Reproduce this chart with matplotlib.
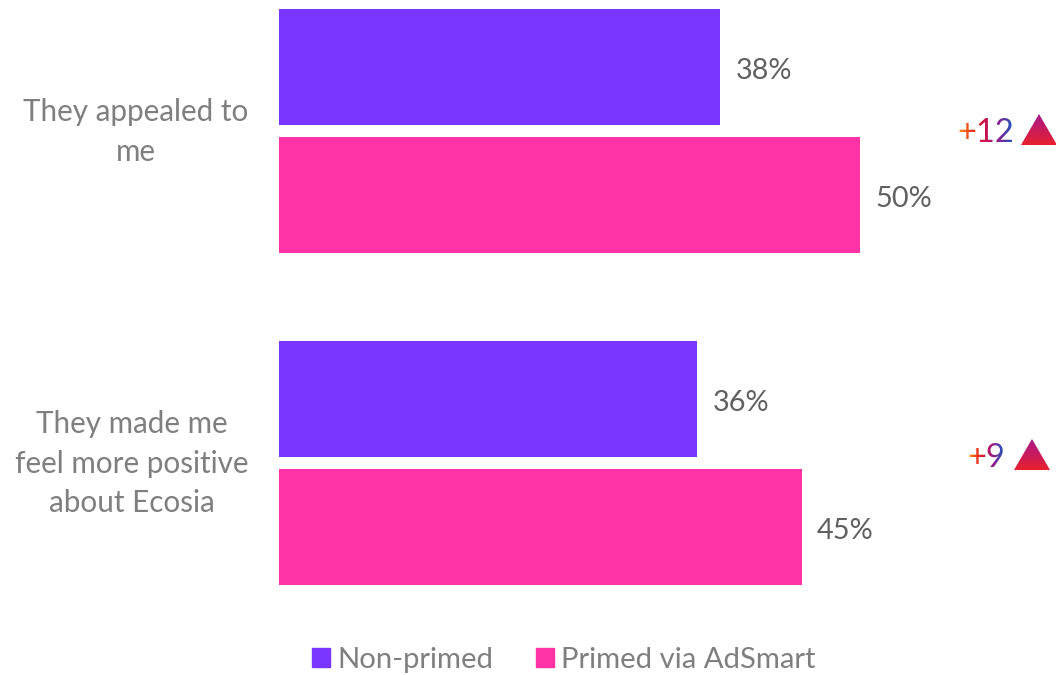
import matplotlib
matplotlib.use('Agg')
import matplotlib.pyplot as plt
import numpy as np
from matplotlib.colors import LinearSegmentedColormap
from matplotlib.patches import Patch, Polygon

plt.rcParams['font.family'] = ['Lato', 'DejaVu Sans']

#%% Data
categories = ['They appealed to\nme', 'They made me\nfeel more positive\nabout Ecosia']
non_primed = [38, 36]
primed = [50, 45]
uplift = ['+12', '+9']
series_names = ['Non-primed', 'Primed via AdSmart']

PURPLE = '#7a35ff'
PINK = '#ff33a5'
GREY = '#7f7f7f'
DARK_GREY = '#606060'

# horizontal gradients used on the uplift numbers and triangles
text_cmap = LinearSegmentedColormap.from_list(
    'uplift_text', ['#ff8a10', '#e8301f', '#c8104f', '#8a2090', '#2a50b8'])
tri_cmap = LinearSegmentedColormap.from_list('uplift_tri', ['#a8188c', '#e8202c'])


def gradient_filter(image, dpi):
    # recolour the rendered text from left to right, keeping its alpha
    out = image.copy()
    grad = text_cmap(np.linspace(0, 1, image.shape[1]))[:, :3]
    out[:, :, :3] = grad[np.newaxis, :, :]
    return out, 0, 0


#%% Figure, axes fill the canvas so the scales below are in canvas pixels
W, H = 1056, 675
PX_PER_PCT = 11.615
PX_PER_CAT = 332
X0, Y0 = 279, 131

fig = plt.figure(figsize=(W / 100, H / 100), dpi=100)
ax = fig.add_axes([0, 0, 1, 1])
ax.set_xlim(-X0 / PX_PER_PCT, (W - X0) / PX_PER_PCT)
ax.set_ylim((H - Y0) / PX_PER_CAT, -Y0 / PX_PER_CAT)
ax.axis('off')

dx = 1 / PX_PER_PCT
dy = 1 / PX_PER_CAT

y = np.arange(len(categories))
offset = 64 * dy
height = 116 * dy
ax.barh(y - offset, non_primed, height=height, color=PURPLE)
ax.barh(y + offset, primed, height=height, color=PINK)

#%% Value labels
for i in y:
    ax.text(non_primed[i] + 15.5 * dx, i - offset + 4 * dy, f'{non_primed[i]}%', va='center',
            ha='left', fontsize=20.8, color=DARK_GREY)
    ax.text(primed[i] + 15.5 * dx, i + offset + 4 * dy, f'{primed[i]}%', va='center',
            ha='left', fontsize=20.8, color=DARK_GREY)

#%% Category labels
cat_centers = [-143, -147]
for i, cat in enumerate(categories):
    ax.text(cat_centers[i] * dx, i + 1 * dy, cat, ha='center', va='center', fontsize=21.3, color=GREY,
            linespacing=1.5, multialignment='center')

#%% Uplift numbers and triangles
tri_grad = np.linspace(0, 1, 64).reshape(-1, 1)
rights = [735, 726]
tri_lefts = [742, 735]
shifts = [0, -7]
for i, label in enumerate(uplift):
    right = rights[i] * dx
    mid = i + shifts[i] * dy
    t = ax.text(right, mid + 2 * dy, label, ha='right', va='center', fontsize=23.5, color='black')
    t.set_agg_filter(gradient_filter)

    left = tri_lefts[i] * dx
    top = mid - 17 * dy
    bottom = mid + 14 * dy
    width = 36 * dx
    im = ax.imshow(tri_grad, cmap=tri_cmap, aspect='auto',
                   extent=(left, left + width, bottom, top), zorder=3)
    tri = Polygon([(left, bottom), (left + width / 2, top), (left + width, bottom)],
                  closed=True, transform=ax.transData, fc='none', ec='none')
    ax.add_patch(tri)
    im.set_clip_path(tri)

# imshow resets the limits
ax.set_xlim(-X0 / PX_PER_PCT, (W - X0) / PX_PER_PCT)
ax.set_ylim((H - Y0) / PX_PER_CAT, -Y0 / PX_PER_CAT)

#%% Legend
handles = [Patch(color=PURPLE, label=series_names[0]), Patch(color=PINK, label=series_names[1])]
fig.legend(handles=handles, loc='center', bbox_to_anchor=(564 / W, 1 - 660 / H), ncol=2,
           frameon=False, fontsize=21.1, labelcolor=GREY, handlelength=0.61, handleheight=0.61,
           handletextpad=0.25, columnspacing=1.45, borderpad=0)

fig.savefig('out.png', dpi=100)
